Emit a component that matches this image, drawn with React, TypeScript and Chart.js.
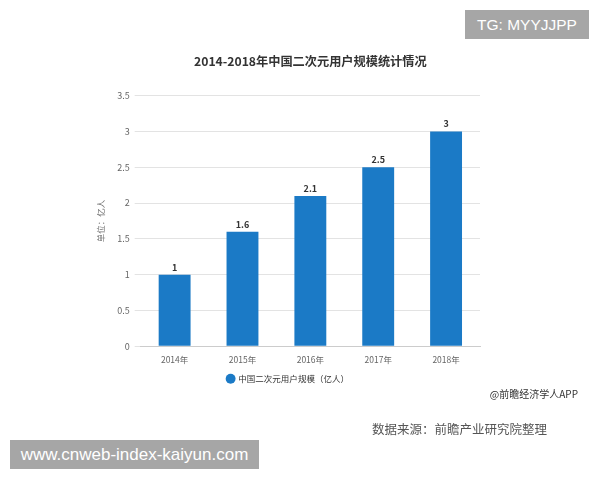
import React, { useEffect, useRef } from "react";
import { Chart, registerables } from "chart.js";

Chart.register(...registerables);

const categories = ["2014年", "2015年", "2016年", "2017年", "2018年"];
const values = [1, 1.6, 2.1, 2.5, 3];
const valueLabels = ["1", "1.6", "2.1", "2.5", "3"];
const seriesName = "中国二次元用户规模（亿人）";
const titleText = "2014-2018年中国二次元用户规模统计情况";
const yTitle = "单位：亿人";

const FONT = "'Noto Sans CJK SC', 'Noto Sans', sans-serif";

const valueLabelPlugin = {
  id: "valueLabels",
  afterDatasetsDraw(chart: any) {
    const ctx = chart.ctx;
    const meta = chart.getDatasetMeta(0);
    ctx.save();
    ctx.font = `bold 9px ${FONT}`;
    ctx.fillStyle = "#333";
    ctx.textAlign = "center";
    ctx.textBaseline = "bottom";
    meta.data.forEach((el: any, i: number) => {
      ctx.fillText(valueLabels[i], el.x, el.y - 3);
    });
    ctx.restore();
  },
};

export default function App() {
  const ref = useRef<HTMLCanvasElement>(null);
  useEffect(() => {
    if (!ref.current) return;
    const chart = new Chart(ref.current, {
      type: "bar",
      data: {
        labels: categories,
        datasets: [
          {
            label: seriesName,
            data: values,
            backgroundColor: "#1b7ac6",
            borderWidth: 0,
            barPercentage: 0.5,
            categoryPercentage: 0.94,
          },
        ],
      },
      options: {
        animation: false,
        responsive: true,
        maintainAspectRatio: false,
        layout: { padding: { left: 96, right: 120, top: 0, bottom: 87 } },
        plugins: {
          title: {
            display: true,
            fullSize: false,
            text: titleText,
            color: "#333",
            font: { family: FONT, size: 12.2, weight: "bold" },
            padding: { top: 54, bottom: 27 },
          },
          legend: {
            display: true,
            position: "bottom",
            labels: {
              usePointStyle: true,
              pointStyle: "circle",
              boxWidth: 7,
              boxHeight: 7,
              color: "#333",
              font: { family: FONT, size: 8.5 },
              padding: 10,
            },
          },
          tooltip: { enabled: false },
        },
        scales: {
          x: {
            grid: { display: false },
            border: { display: true, color: "#ccc" },
            ticks: { color: "#666", font: { family: FONT, size: 8.5 }, padding: 0 },
          },
          y: {
            min: 0,
            max: 3.5,
            ticks: {
              stepSize: 0.5,
              color: "#666",
              font: { family: FONT, size: 9 },
              padding: 5,
              callback: (v: any) => String(v),
            },
            grid: { color: "#e3e3e3", tickLength: 6, drawTicks: true },
            border: { display: false },
            title: {
              display: true,
              text: yTitle,
              color: "#777",
              font: { family: FONT, size: 8.5 },
              padding: { top: 0, bottom: 6 },
            },
          },
        },
      },
      plugins: [valueLabelPlugin],
    });
    return () => chart.destroy();
  }, []);

  return (
    <div style={{ position: "absolute", left: 0, top: 0, width: 600, height: 480, background: "#fff", overflow: "hidden" }}>
      <canvas ref={ref} style={{ position: "absolute", left: 0, top: 0 }} />
      <div
        style={{
          position: "absolute",
          left: 465,
          top: 10,
          width: 124,
          height: 29,
          background: "#a6a6a6",
          color: "#fff",
          fontFamily: "'Liberation Sans', Arial, sans-serif",
          fontSize: 15.5,
          lineHeight: "29px",
          textAlign: "center",
        }}
      >
        TG: MYYJJPP
      </div>
      <div
        style={{
          position: "absolute",
          right: 22,
          top: 386,
          color: "#333",
          fontFamily: FONT,
          fontSize: 10,
          whiteSpace: "nowrap",
        }}
      >
        @前瞻经济学人APP
      </div>
      <div
        style={{
          position: "absolute",
          left: 372,
          top: 419,
          color: "#555",
          fontFamily: FONT,
          fontSize: 12.5,
          whiteSpace: "nowrap",
        }}
      >
        数据来源：前瞻产业研究院整理
      </div>
      <div
        style={{
          position: "absolute",
          left: 10,
          top: 440,
          width: 249,
          height: 29,
          background: "#a6a6a6",
          color: "#fff",
          fontFamily: "'Liberation Sans', Arial, sans-serif",
          fontSize: 17,
          lineHeight: "29px",
          textAlign: "center",
        }}
      >
        www.cnweb-index-kaiyun.com
      </div>
    </div>
  );
}
